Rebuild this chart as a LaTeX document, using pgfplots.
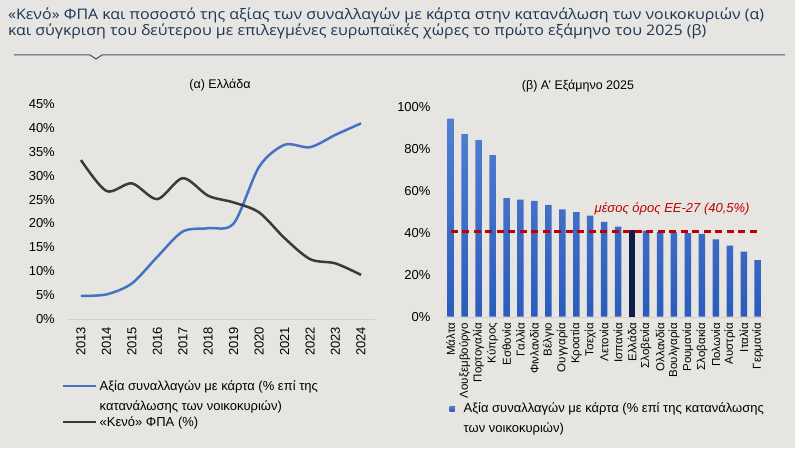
\documentclass[border=0pt]{standalone}
\usepackage{pgfplots}
\pgfplotsset{compat=1.18}
\usepackage{fontspec}
\setmainfont{Liberation Sans}
\newfontfamily\titlefont[FakeStretch=1.1]{Open Sans}
\definecolor{bg}{HTML}{E6E5E1}
\definecolor{titleblue}{HTML}{1C3557}
\definecolor{cardblue}{HTML}{4472C4}
\definecolor{gapgray}{HTML}{3A3A3A}
\definecolor{bartop}{HTML}{5080D2}
\definecolor{barbot}{HTML}{2C5CBB}
\definecolor{grnavy}{HTML}{0C1E4A}
\definecolor{avgred}{HTML}{C00000}
\definecolor{rulecol}{HTML}{44546A}
\begin{document}
\begin{tikzpicture}
\fill[bg] (0pt,0pt) rectangle (795pt,448pt);
\node[anchor=base west, inner sep=0, text=titleblue, font=\titlefont\fontsize{14.5}{17}\selectfont] at (8pt,428pt) {«Κενό» ΦΠΑ και ποσοστό της αξίας των συναλλαγών με κάρτα στην κατανάλωση των νοικοκυριών (α)};
\node[anchor=base west, inner sep=0, text=titleblue, font=\titlefont\fontsize{14.5}{17}\selectfont] at (8pt,412pt) {και σύγκριση του δεύτερου με επιλεγμένες ευρωπαϊκές χώρες το πρώτο εξάμηνο του 2025 (β)};
\draw[rulecol, line width=1pt] (14pt,393pt) -- (90pt,393pt) -- (96pt,389pt) -- (102pt,393pt) -- (785pt,393pt);
\node[font=\fontsize{12.5}{15}\selectfont, inner sep=0] at (220pt,363pt) {(α) Ελλάδα};
\node[font=\fontsize{12.5}{15}\selectfont, inner sep=0] at (578pt,362pt) {(β) Α' Εξάμηνο 2025};

\begin{axis}[
  at={(68pt,129.3pt)}, anchor=south west, scale only axis,
  width=307pt, height=214.4pt,
  xmin=2012.49, xmax=2024.55, ymin=0, ymax=45,
  axis x line*=bottom, axis y line*=left,
  x axis line style={draw=black!18},
  y axis line style={draw=none},
  major tick length=0pt,
  xtick={2013,...,2024},
  xticklabels={2013,2014,2015,2016,2017,2018,2019,2020,2021,2022,2023,2024},
  ytick={0,5,...,45},
  yticklabels={0\%,5\%,10\%,15\%,20\%,25\%,30\%,35\%,40\%,45\%},
  ticklabel style={font=\fontsize{13}{15}\selectfont, inner sep=0pt},
  yticklabel style={xshift=-13pt},
  xticklabel style={yshift=-8pt, rotate=90, anchor=east},
  legend style={at={(-0.0195,-0.281)}, anchor=north west, draw=none, fill=none,
    font=\fontsize{13}{20}\selectfont, cells={align=left}, row sep=0pt, inner sep=0pt},
  legend cell align=left,
  legend image code/.code={\draw[#1] (0pt,0pt) -- (33pt,0pt);},
]
\addplot[cardblue, line width=2.5pt, smooth, tension=0.5,
  legend image code/.code={\path[draw=none, fill=none] (0pt,-11pt) (33pt,11pt); \draw[cardblue, line width=2.5pt] (0pt,11pt) -- (33pt,11pt);}] coordinates {
(2013,4.8) (2014,5.1) (2015,7.4) (2016,13.0) (2017,18.3) (2018,19.0) (2019,20.0) (2020,31.9) (2021,36.5) (2022,36.0) (2023,38.6) (2024,41.0)};
\addlegendentry{Αξία συναλλαγών με κάρτα (\% επί της\\κατανάλωσης των νοικοκυριών)}
\addplot[gapgray, line width=2.5pt, smooth, tension=0.5] coordinates {
(2013,33.3) (2014,26.8) (2015,28.4) (2016,25.1) (2017,29.5) (2018,25.8) (2019,24.4) (2020,22.3) (2021,16.9) (2022,12.5) (2023,11.6) (2024,9.2)};
\addlegendentry{«Κενό» ΦΠΑ (\%)}
\end{axis}

\begin{axis}[
  at={(443.7pt,131.3pt)}, anchor=south west, scale only axis,
  width=321pt, height=210pt,
  xmin=-0.5, xmax=22.5, ymin=0, ymax=100,
  ybar, bar width=6.5pt, bar shift=0pt,
  axis x line*=bottom, axis y line*=left,
  x axis line style={draw=black!18},
  y axis line style={draw=none},
  major tick length=0pt,
  xtick={0,...,22},
  xticklabels={Μάλτα,Λουξεμβούργο,Πορτογαλία,Κύπρος,Εσθονία,Γαλλία,Φινλανδία,Βέλγιο,Ουγγαρία,Κροατία,Τσεχία,Λετονία,Ισπανία,Ελλάδα,Σλοβενία,Ολλανδία,Βουλγαρία,Ρουμανία,Σλοβακία,Πολωνία,Αυστρία,Ιταλία,Γερμανία},
  ytick={0,20,...,100},
  yticklabels={0\%,20\%,40\%,60\%,80\%,100\%},
  ticklabel style={inner sep=0pt},
  yticklabel style={font=\fontsize{13}{15}\selectfont, xshift=-13pt},
  xticklabel style={font=\fontsize{11.5}{13}\selectfont, yshift=-6pt, rotate=90, anchor=east},
  legend style={at={(0.018,-0.40)}, anchor=north west, draw=none, fill=none,
    font=\fontsize{13}{20}\selectfont, cells={align=left}, inner sep=0pt},
  legend cell align=left,
  legend image code/.code={\path[draw=none, fill=none] (0pt,-12pt) (12pt,12pt); \fill[#1] (0pt,7.5pt) rectangle (5pt,12.5pt);},
]
\addplot[draw=none, top color=bartop, bottom color=barbot] coordinates {
(0,94.3) (1,87.0) (2,84.1) (3,77.0) (4,56.5) (5,55.7) (6,55.1) (7,53.2) (8,51.1) (9,49.8) (10,48.1) (11,45.2) (12,42.9)
(14,41.0) (15,40.3) (16,40.2) (17,39.8) (18,39.5) (19,36.8) (20,33.8) (21,31.0) (22,27.0)};
\addlegendentry{Αξία συναλλαγών με κάρτα (\% επί της κατανάλωσης\\των νοικοκυριών)}
\addplot[draw=none, fill=grnavy, forget plot] coordinates {(13,41.4)};
\addplot[sharp plot, avgred, line width=2.8pt, dash pattern=on 7pt off 4.5pt, forget plot] coordinates {(0,40.5) (22,40.5)};
\node[anchor=base west, inner sep=0, text=avgred, font=\itshape\fontsize{13}{15}\selectfont] at (axis cs:10.3,49.4) {μέσος όρος ΕΕ-27 (40,5\%)};
\end{axis}
\pgfresetboundingbox
\path[use as bounding box] (0pt,0pt) rectangle (795pt,448pt);
\end{tikzpicture}
\end{document}
